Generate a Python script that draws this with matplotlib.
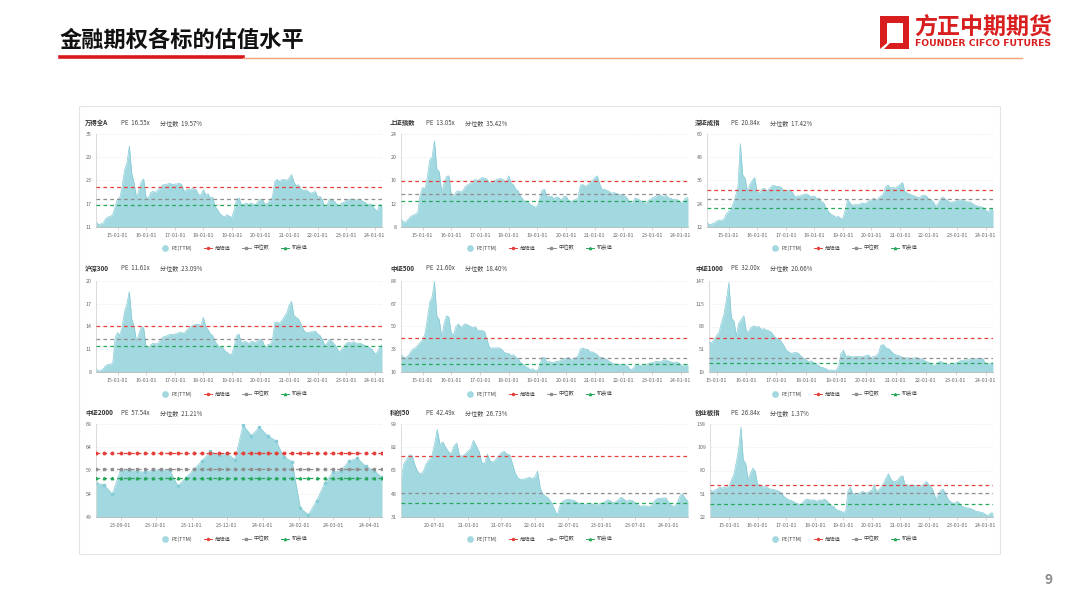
import matplotlib
matplotlib.use("Agg")
import matplotlib.pyplot as plt
import matplotlib.dates as mdates
from matplotlib.lines import Line2D
from matplotlib.patches import Rectangle, Polygon
import numpy as np
import pandas as pd

plt.rcParams['font.family'] = ['Noto Sans CJK SC', 'DejaVu Sans']

# ---- data ----
# monthly PE(TTM), 2014-04 .. 2024-04
wind_a = [12.5, 11.6, 11.8, 12.0, 13.1, 13.6, 13.7, 14.2, 16.3,
          18.2, 18.7, 21.5, 25.7, 27.5, 31.9, 24.9, 22.3, 18.5, 20.6, 22.7, 23.4,
          18.5, 18.7, 19.9, 20.2, 19.9, 20.6, 21.0, 21.9, 21.9, 22.1, 22.3, 21.9,
          22.1, 22.1, 22.3, 21.9, 20.2, 20.6, 20.8, 20.8, 20.9, 20.6, 19.3, 19.3,
          20.6, 19.3, 19.6, 18.5, 18.7, 16.3, 15.5, 14.4, 13.9, 13.6, 14.2, 13.7,
          13.5, 15.5, 18.2, 18.5, 16.8, 16.8, 17.2, 16.8, 17.2, 16.9, 16.8, 17.6,
          18.2, 17.9, 16.8, 17.2, 17.9, 18.7, 22.7, 23.3, 22.7, 23.2, 23.3, 23.0,
          23.6, 24.5, 22.7, 21.6, 21.9, 20.8, 20.4, 20.6, 20.2, 19.7, 19.9, 20.2,
          18.7, 18.9, 18.0, 16.3, 16.8, 18.2, 18.2, 17.6, 17.0, 16.3, 17.2, 17.3,
          18.0, 18.0, 18.2, 18.2, 18.0, 17.9, 18.0, 17.6, 17.3, 16.8, 17.0, 16.5,
          15.6, 15.0, 16.8, 16.55]
sh_index = [9.5, 8.8, 8.9, 9.3, 9.8, 10.0, 10.2, 10.5, 13.5,
            14.8, 14.5, 16.5, 19.5, 20.0, 22.8, 18.0, 17.5, 14.0, 15.5, 16.7, 16.8,
            13.5, 13.3, 14.0, 14.2, 14.0, 14.3, 15.0, 15.3, 15.5, 15.8, 16.2, 16.0,
            16.3, 16.5, 16.4, 16.2, 15.5, 15.8, 16.0, 16.2, 16.3, 16.3, 16.0, 15.8,
            16.8, 15.5, 15.3, 14.5, 14.2, 13.2, 12.8, 12.3, 12.5, 11.8, 11.7, 11.4,
            11.6, 13.0, 14.3, 14.5, 13.2, 13.3, 13.3, 12.8, 13.2, 13.0, 12.7, 13.2,
            13.3, 12.6, 12.4, 12.6, 12.7, 13.0, 15.2, 15.3, 15.0, 15.2, 15.6, 16.0,
            16.5, 16.8, 15.5, 14.5, 14.5, 14.3, 14.1, 13.8, 13.9, 13.8, 13.6, 13.5,
            13.4, 13.2, 12.7, 12.0, 12.4, 13.0, 12.8, 12.6, 12.3, 12.0, 12.4, 12.7,
            13.0, 13.2, 13.4, 13.6, 13.3, 13.3, 13.4, 13.0, 12.9, 12.7, 12.8, 12.6,
            12.2, 12.4, 13.0, 13.05]
sz_index = [14.5, 13.2, 13.5, 14.0, 15.0, 15.5, 15.5, 15.8, 18.5,
            20.0, 21.0, 24.0, 28.0, 33.0, 55.0, 39.0, 37.0, 30.0, 34.0, 36.0, 37.5,
            30.0, 29.5, 31.5, 32.0, 30.5, 31.5, 33.0, 33.5, 33.0, 33.0, 32.5, 31.0,
            30.5, 31.0, 31.0, 29.5, 27.5, 28.0, 28.0, 28.5, 29.0, 29.0, 28.0, 27.5,
            28.0, 26.5, 27.0, 25.0, 24.5, 21.5, 20.0, 18.5, 18.0, 17.0, 17.5, 16.5,
            16.5, 21.0, 26.0, 24.5, 23.0, 23.5, 23.5, 23.5, 24.5, 24.0, 24.5, 25.5,
            26.0, 27.0, 25.5, 27.0, 28.0, 29.0, 33.0, 33.5, 32.0, 32.5, 32.0, 33.0,
            34.0, 35.0, 30.5, 29.5, 29.0, 28.5, 28.0, 27.5, 27.0, 28.0, 28.5, 28.0,
            26.5, 26.0, 25.0, 22.5, 24.0, 26.5, 27.5, 26.5, 25.5, 24.5, 25.0, 25.0,
            26.0, 26.0, 26.0, 25.5, 25.0, 25.0, 24.5, 23.5, 23.0, 22.5, 22.5, 22.0,
            20.5, 19.5, 21.5, 20.84]
hs300 = [8.5, 8.1, 8.2, 8.4, 8.8, 9.0, 9.0, 9.2, 12.5,
         13.2, 12.8, 14.0, 16.0, 17.0, 18.6, 15.0, 14.0, 12.0, 13.0, 14.0, 13.8,
         11.3, 11.2, 11.6, 11.8, 11.7, 11.8, 12.2, 12.6, 12.7, 12.8, 13.0, 12.9,
         13.0, 13.1, 13.2, 13.2, 13.1, 13.5, 13.8, 14.0, 14.2, 14.3, 14.3, 14.1,
         15.2, 14.0, 13.6, 13.0, 12.8, 12.0, 11.6, 11.2, 11.3, 10.8, 10.6, 10.3,
         10.4, 11.5, 12.8, 13.0, 11.8, 12.0, 12.0, 11.7, 12.0, 12.0, 11.8, 12.2,
         12.3, 12.0, 11.2, 11.6, 11.6, 12.2, 14.5, 14.6, 14.4, 14.8, 15.3, 15.8,
         16.8, 17.3, 15.5, 15.2, 15.0, 14.3, 13.6, 13.2, 13.2, 13.3, 13.3, 13.4,
         13.0, 12.8, 12.3, 11.5, 11.8, 12.3, 12.0, 11.7, 11.2, 10.6, 11.0, 11.3,
         11.8, 11.9, 11.8, 12.0, 11.8, 11.8, 11.8, 11.6, 11.5, 11.3, 11.2, 10.9,
         10.4, 10.6, 11.2, 11.61]
zz500 = [29.5, 27.0, 27.0, 28.0, 31.0, 33.0, 34.0, 36.0, 38.0,
         40.0, 45.0, 55.0, 68.0, 72.0, 83.5, 58.0, 55.0, 42.0, 52.0, 58.0, 57.0,
         45.0, 44.0, 50.0, 52.0, 49.0, 51.0, 52.0, 51.0, 50.0, 49.0, 50.0, 47.0,
         47.0, 47.0, 46.0, 40.0, 34.0, 34.0, 34.0, 34.0, 34.0, 33.0, 31.0, 30.0,
         30.0, 28.0, 29.0, 27.0, 26.0, 23.0, 22.0, 20.0, 19.5, 17.5, 18.5, 17.0,
         17.0, 21.0, 27.0, 27.0, 23.0, 24.0, 23.0, 23.0, 24.0, 24.0, 25.0, 26.0,
         26.0, 27.0, 25.0, 26.0, 26.5, 28.0, 33.0, 34.0, 33.0, 33.0, 31.0, 31.0,
         30.0, 29.0, 27.0, 27.0, 26.0, 25.5, 24.0, 23.0, 22.0, 22.0, 21.5, 21.5,
         21.0, 21.0, 20.0, 17.5, 18.5, 21.0, 21.5, 21.0, 20.5, 21.0, 22.0, 22.5,
         23.0, 23.5, 24.0, 23.5, 24.0, 25.0, 25.0, 24.0, 23.5, 23.0, 23.5, 23.0,
         21.5, 20.0, 21.5, 21.6]
# monthly, 2014-10 .. 2024-04
zz1000 = [63, 59, 65,
          70, 75, 88, 100, 120, 145, 95, 91, 70, 88, 93, 98,
          75, 77, 82, 84, 82, 83, 79, 80, 78, 77, 75, 70,
          66.5, 65.6, 62, 56.5, 49.6, 47.3, 45, 46, 46.5, 45, 40.8, 38.4,
          36, 33, 35, 31.6, 30.2, 28, 25.7, 24.9, 23.5, 21, 22, 21,
          21, 27, 45, 49.6, 40.8, 42, 40.8, 40.3, 40.8, 40.8, 40.3, 41,
          42, 43, 39, 40.8, 41.5, 45, 56.5, 57.5, 52.8, 52, 48.3, 45,
          43, 42, 40.8, 39.3, 38.4, 39.3, 37.5, 38.4, 39.3, 38.4, 37.5, 36,
          34, 33, 30.2, 28.4, 29.3, 33, 34, 31.6, 30.2, 29.3, 30.2, 31,
          31.6, 33, 35, 35.6, 36, 36, 37.5, 38.4, 37.5, 37.5, 38.4, 37.5,
          30.2, 29.3, 31.6, 32.0]
# weekly, 2023-08-11 .. 2024-04-12
zz2000 = [56.3, 55.9, 53.9, 59.1, 59.1, 58.8, 58.6, 59.1, 59.1, 59.1, 55.7, 57.4,
          59.3, 61.1, 63.1, 62.4, 62.7, 61.3, 68.8, 66.5, 68.3, 66.5, 65.4, 61.9,
          60.9, 50.9, 49.5, 52.5, 56.3, 58.6, 59.0, 61.1, 61.6, 59.9, 59.0, 57.54]
# semi-monthly, 2020-01 .. 2024-04
kc50 = [58, 70, 73, 76.5, 76, 69, 64, 62.5, 64, 70, 72.5, 75, 84, 95, 84, 86,
        82, 79, 77, 83, 85, 76, 75.5, 77, 79, 81, 87, 83, 79, 71, 70, 77,
        72, 71, 73, 75.5, 78, 79, 77, 76.5, 70, 63, 59.5, 58.5, 58.7, 59.2, 60, 59,
        60, 64.5, 52, 47.5, 46, 44.5, 41.5, 37, 32, 39, 42.5, 43.5, 44, 43.5,
        43.3, 42, 41, 41, 40.3, 40.5, 41, 40.3, 39.8, 40.5, 41, 42, 43.5, 43,
        41.5, 42, 43.5, 45.5, 44, 42.5, 43.5, 43, 41.5, 40, 38.8, 39.3, 39, 38.5,
        39.5, 43, 44.5, 44.6, 44.8, 45, 42, 39.5, 38.8, 40.5, 46, 48, 44.5, 42.49]
# monthly, 2014-05 .. 2024-04
cyb = [56, 54, 55.2, 56.8, 59.3, 58, 59.3, 59.3,
       61, 68.4, 74.6, 89, 105.7, 134, 93.3, 89, 68.4, 76.7, 82.9, 78.8,
       62.2, 62.2, 59.3, 60, 59.3, 56.8, 56.8, 56, 55.2, 54, 51.8, 47.7,
       45.6, 43.6, 42.7, 41.5, 39.4, 38.6, 37.3, 40.2, 43.6, 44.4, 42.7, 43.6,
       42.7, 41.5, 43.6, 42.7, 44.4, 42.7, 39.4, 36.1, 35.3, 31.1, 30.3, 29.1,
       27.8, 29.1, 53.9, 59.3, 51.8, 49.8, 49.8, 51.8, 53.9, 52.7, 51.8, 53.9,
       55.2, 62.2, 53.9, 56, 59.3, 64.3, 70.5, 75.9, 69.2, 66.3, 66.3, 68.4,
       72.5, 73.4, 62.2, 62.2, 61, 62.2, 61, 61, 59.3, 61, 63.4, 66.3,
       62.2, 59.3, 53.9, 43.6, 49.8, 55.2, 56.8, 51.8, 44.4, 41.5, 39.4, 39.4,
       41.5, 38.6, 35.3, 34.4, 33.2, 33.2, 32, 30.3, 29.1, 28.6, 27.8, 27,
       24.5, 24.0, 27, 26.84]

names = ['万得全A', '上证指数', '深证成指', '沪深300', '中证500', '中证1000', '中证2000', '科创50', '创业板指']
pe_now = ['16.55x', '13.05x', '20.84x', '11.61x', '21.60x', '32.00x', '57.54x', '42.49x', '26.84x']
pct_now = ['19.57%', '35.42%', '17.42%', '23.09%', '18.40%', '20.66%', '21.21%', '26.73%', '1.37%']
danger = [21.4, 15.83, 31.0, 14.0, 41.7, 66.5, 62.86, 75.7, 61.4]
median = [18.2, 13.66, 26.4, 12.37, 26.4, 39.1, 59.36, 48.5, 51.4]
chance = [16.7, 12.51, 21.6, 11.42, 21.8, 31.3, 57.36, 41.2, 38.2]
y_ranges = [(11, 35, 6), (8, 24, 4), (12, 60, 12), (8, 20, 3), (16, 84, 17),
            (19, 147, 32), (49, 69, 5), (31, 99, 17), (22, 138, 29)]
legend_labels = ['PE(TTM)', '危险值', '中位数', '机会值']

# ---- x positions ----
d_main = pd.date_range('2014-04-01', periods=len(wind_a), freq='MS')
d_1000 = pd.date_range('2014-10-01', periods=len(zz1000), freq='MS')
d_2000 = pd.date_range('2023-08-11', periods=len(zz2000), freq='7D')
d_kc50 = pd.date_range('2020-01-01', '2024-04-15', periods=len(kc50))
d_cyb = pd.date_range('2014-05-01', periods=len(cyb), freq='MS')

yearly = pd.date_range('2015-01-01', '2024-01-01', freq='YS')
monthly = pd.date_range('2023-09-01', '2024-04-01', freq='MS')
halfyear = pd.date_range('2020-07-01', '2024-01-01', freq='6MS')

series = [(d_main, wind_a, yearly), (d_main, sh_index, yearly), (d_main, sz_index, yearly),
          (d_main, hs300, yearly), (d_main, zz500, yearly), (d_1000, zz1000, yearly),
          (d_2000, zz2000, monthly), (d_kc50, kc50, halfyear), (d_cyb, cyb, yearly)]

# ---- figure ----
W, H = 1080, 608
fig = plt.figure(figsize=(W / 100, H / 100), dpi=100)
fig.patch.set_facecolor('white')


def fx(x):
    return x / W


def fy(y):
    return 1 - y / H


# header
fig.text(fx(60), fy(40), '金融期权各标的估值水平', fontsize=16, fontweight='bold',
         va='center', ha='left', color='#111111')
fig.add_artist(Line2D([fx(60), fx(243)], [fy(57), fy(57)], color='#d7191c', lw=2.6))
fig.add_artist(Line2D([fx(243), fx(1022)], [fy(57.5), fy(57.5)], color='#f4a07a', lw=1.0))

# logo
red = '#d81e1e'
fig.add_artist(Polygon([(fx(880), fy(16)), (fx(909), fy(16)), (fx(905), fy(23)), (fx(887), fy(23)),
                        (fx(887), fy(43)), (fx(880), fy(49))], closed=True, color=red, lw=0))
fig.add_artist(Polygon([(fx(909), fy(16)), (fx(909), fy(49)), (fx(884), fy(49)), (fx(890), fy(43)),
                        (fx(903), fy(43)), (fx(903), fy(22))], closed=True, color=red, lw=0))
fig.text(fx(914), fy(27), '方正中期期货', fontsize=16.6, fontweight='bold', color=red,
         va='center', ha='left')
fig.text(fx(915), fy(44), 'FOUNDER CIFCO FUTURES', fontsize=6.7, fontweight='bold', color=red,
         va='center', ha='left', family='DejaVu Sans')

# page number
fig.text(fx(1049), fy(580), '9', fontsize=10, color='#8c8c8c', fontweight='bold',
         ha='center', va='center')

# panel frame
fig.add_artist(Rectangle((fx(79), fy(554)), fx(921), (551 - 103) / H, fill=False,
                         edgecolor='#e4e4e4', lw=0.8))

teal_fill = '#a2d8e0'
teal_line = '#86cbd6'
c_red = '#e5403a'
c_gray = '#8f8f8f'
c_green = '#26a85a'

col_x0 = [80, 385, 690]
ax_left = [[96, 401, 707], [96, 401, 709], [96, 401, 710]]
ax_right = [382, 688, 993]
rows = [(134, 227), (281, 372), (424, 517)]
title_y = [123, 268, 413]
legend_y = [248, 394, 539]

for i in range(9):
    r, c = divmod(i, 3)
    dates, vals, xticks = series[i]
    lo, hi, step = y_ranges[i]
    l, rgt = ax_left[r][c], ax_right[c]
    t, b = rows[r]
    ax = fig.add_axes([fx(l), fy(b), (rgt - l) / W, (b - t) / H])

    is_weekly = (i == 6)
    ax.fill_between(dates, vals, lo, color=teal_fill, lw=0, zorder=2)
    ax.plot(dates, vals, color=teal_line, lw=0.5, zorder=2,
            marker='o' if is_weekly else None, ms=1.6, mfc=teal_line, mec=teal_line)

    if is_weekly:
        n = len(dates)
        ax.plot(dates, np.full(n, danger[i]), color=c_red, lw=0.9, ls=(0, (3, 2.5)),
                marker='o', ms=1.8, zorder=3)
        ax.plot(dates, np.full(n, median[i]), color=c_gray, lw=0.9, ls=(0, (3, 2.5)),
                marker='s', ms=1.8, zorder=3)
        ax.plot(dates, np.full(n, chance[i]), color=c_green, lw=0.9, ls=(0, (3, 2.5)),
                marker='^', ms=1.8, zorder=3)
    else:
        ax.axhline(danger[i], color=c_red, lw=0.9, ls=(0, (3, 2.5)), zorder=3)
        ax.axhline(median[i], color=c_gray, lw=0.9, ls=(0, (3, 2.5)), zorder=3)
        ax.axhline(chance[i], color=c_green, lw=0.9, ls=(0, (3, 2.5)), zorder=3)

    ax.set_xlim(dates[0], dates[-1])
    ax.set_ylim(lo, hi)
    ax.set_yticks(np.arange(lo, hi + 0.1, step))
    ax.set_xticks(xticks)
    ax.xaxis.set_major_formatter(mdates.DateFormatter('%y-%m-%d'))

    for s in ['top', 'right']:
        ax.spines[s].set_visible(False)
    ax.spines['left'].set_color('#d6d6d6')
    ax.spines['left'].set_linewidth(0.6)
    ax.spines['bottom'].set_color('#b8b8b8')
    ax.spines['bottom'].set_linewidth(0.6)
    ax.tick_params(axis='y', length=0, pad=3, labelsize=3.8, labelcolor='#666666')
    ax.tick_params(axis='x', length=2, width=0.4, color='#b8b8b8', pad=2,
                   labelsize=3.8, labelcolor='#666666')
    ax.grid(axis='y', color='#e8e8e8', lw=0.5, ls=(0, (2, 2)))
    ax.set_axisbelow(True)

    # panel title
    x0 = col_x0[c]
    fig.text(fx(x0 + 5), fy(title_y[r]), names[i], fontsize=4.6, color='#333333',
             fontweight='bold', va='center', ha='left')
    fig.text(fx(x0 + 41), fy(title_y[r]), 'PE  ' + pe_now[i], fontsize=4.4, color='#444444',
             va='center', ha='left')
    fig.text(fx(x0 + 80), fy(title_y[r]), '分位数  ' + pct_now[i], fontsize=4.4,
             color='#444444', va='center', ha='left')

    handles = [Line2D([], [], ls='none', marker='o', ms=3.8, color=teal_fill),
               Line2D([], [], color=c_red, lw=0.7, marker='o', ms=1.5),
               Line2D([], [], color=c_gray, lw=0.7, marker='s', ms=1.5),
               Line2D([], [], color=c_green, lw=0.7, marker='^', ms=1.6)]
    ax.legend(handles, legend_labels, ncol=4, loc='center',
              bbox_to_anchor=(fx(x0 + 154), fy(legend_y[r])), bbox_transform=fig.transFigure,
              frameon=False, fontsize=3.8, handlelength=1.6, handletextpad=0.5,
              columnspacing=2.2, labelcolor='#444444')

fig.savefig('out.png', dpi=100, facecolor='white')
